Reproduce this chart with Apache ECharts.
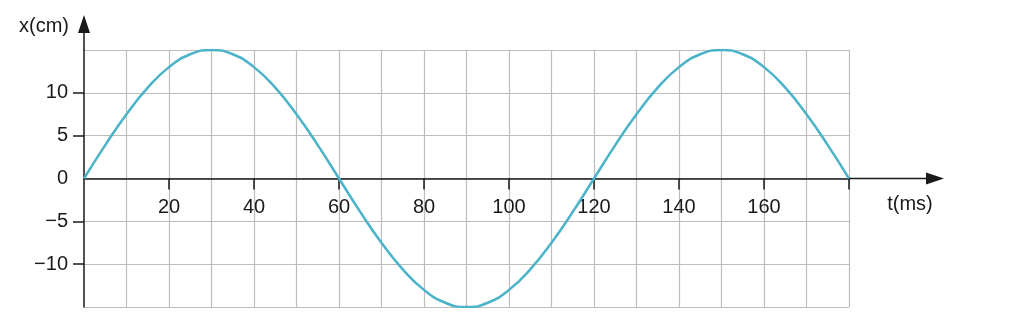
<!DOCTYPE html>
<html>
<head>
<meta charset="utf-8">
<script src="https://cdn.jsdelivr.net/npm/echarts@6/dist/echarts.min.js"></script>
<style>html,body{margin:0;padding:0;background:#fff}#c{width:1024px;height:320px}</style>
</head>
<body>
<div id="c"></div>
<script>
// time (ms) and displacement (cm)
var times = [0,5,10,15,20,25,30,35,40,45,50,55,60,65,70,75,80,85,90,95,100,105,110,115,120,125,130,135,140,145,150,155,160,165,170,175,180];
var displacement = [0,3.9,7.5,10.6,13.0,14.5,15,14.5,13.0,10.6,7.5,3.9,0,-3.9,-7.5,-10.6,-13.0,-14.5,-15,-14.5,-13.0,-10.6,-7.5,-3.9,0,3.9,7.5,10.6,13.0,14.5,15,14.5,13.0,10.6,7.5,3.9,0];
var xTickValues = [20,40,60,80,100,120,140,160,180];
var xLabelValues = [20,40,60,80,100,120,140,160];
var yTickValues = [-10,-5,5,10];
var yLabelValues = [-10,-5,0,5,10];
var xName = 't(ms)';
var yName = 'x(cm)';

var FONT = '"Liberation Sans", Arial, sans-serif';
var TXT = '#1a1a1a';
var GRIDC = '#bdbdbd';

var chart = echarts.init(document.getElementById('c'));
var data = times.map(function (t, i) { return [t, displacement[i]]; });

function labelAxis(offset) {
  return {
    type: 'value', min: 0, max: 180, interval: 20, position: 'bottom', offset: offset,
    axisLine: { show: false, onZero: false },
    axisTick: { show: false },
    axisLabel: { customValues: xLabelValues, margin: 19, color: TXT, fontSize: 20, fontFamily: FONT },
    splitLine: { show: false }
  };
}

chart.setOption({
  animation: false,
  grid: { left: 84, right: 175, top: 50, bottom: 13, containLabel: false, outerBoundsMode: 'none' },
  xAxis: [{
    type: 'value', min: 0, max: 180, interval: 20,
    axisLine: { show: true, onZero: true, lineStyle: { color: TXT, width: 1.5 } },
    axisTick: { show: true, length: 11, customValues: xTickValues, lineStyle: { color: TXT, width: 1.5 } },
    axisLabel: { show: false },
    splitLine: { show: true, lineStyle: { color: GRIDC, width: 1.2 } },
    minorTick: { show: false, splitNumber: 2 },
    minorSplitLine: { show: true, lineStyle: { color: GRIDC, width: 1.2 } }
  }, labelAxis(0)],
  yAxis: [{
    type: 'value', min: -15, max: 15, interval: 5,
    axisLine: { show: true, onZero: true, lineStyle: { color: TXT, width: 1.5 } },
    axisTick: { show: false },
    axisLabel: { show: false },
    splitLine: { show: true, showMinLine: true, showMaxLine: true, lineStyle: { color: GRIDC, width: 1.2 } }
  }, {
    type: 'value', min: -15, max: 15, interval: 5, position: 'left', offset: 0,
    axisLine: { show: false, onZero: false },
    axisTick: { show: true, length: 11, customValues: yTickValues, lineStyle: { color: TXT, width: 1.5 } },
    axisLabel: {
      customValues: yLabelValues, margin: 16, color: TXT, fontSize: 20, fontFamily: FONT,
      formatter: function (v) { return v < 0 ? '\u2212' + Math.abs(v) : String(v); }
    },
    splitLine: { show: false }
  }],
  series: [{
    type: 'line', data: data, smooth: true, showSymbol: false, xAxisIndex: 0, yAxisIndex: 0,
    lineStyle: { color: '#4bb3c9', width: 2.5 }, z: 5
  }]
});

// positions from the chart's own scales
var o = chart.convertToPixel({ xAxisIndex: 0, yAxisIndex: 0 }, [0, 0]);
var top15 = chart.convertToPixel({ xAxisIndex: 0, yAxisIndex: 0 }, [0, 15]);
var bot15 = chart.convertToPixel({ xAxisIndex: 0, yAxisIndex: 0 }, [0, -15]);
var right = chart.convertToPixel({ xAxisIndex: 0, yAxisIndex: 0 }, [180, 0]);
var xTip = right[0] + 95, yTip = 15;
chart.setOption({
  xAxis: [{}, labelAxis(-(bot15[1] - o[1]))],
  graphic: [
    { type: 'line', z: 10, shape: { x1: right[0], y1: o[1], x2: xTip - 14, y2: o[1] }, style: { stroke: TXT, lineWidth: 1.5 } },
    { type: 'polygon', z: 10, shape: { points: [[xTip, o[1]], [xTip - 18, o[1] - 6], [xTip - 18, o[1] + 6]] }, style: { fill: TXT } },
    { type: 'line', z: 10, shape: { x1: o[0], y1: top15[1], x2: o[0], y2: yTip + 14 }, style: { stroke: TXT, lineWidth: 1.5 } },
    { type: 'polygon', z: 10, shape: { points: [[o[0], yTip], [o[0] - 6, yTip + 18], [o[0] + 6, yTip + 18]] }, style: { fill: TXT } },
    { type: 'text', z: 10, x: xTip - 34, y: o[1] + 26, style: { text: xName, fill: TXT, font: '20px ' + FONT, textAlign: 'center', textVerticalAlign: 'middle' } },
    { type: 'text', z: 10, x: o[0] - 40, y: 26, style: { text: yName, fill: TXT, font: '20px ' + FONT, textAlign: 'center', textVerticalAlign: 'middle' } }
  ]
});
</script>
</body>
</html>
